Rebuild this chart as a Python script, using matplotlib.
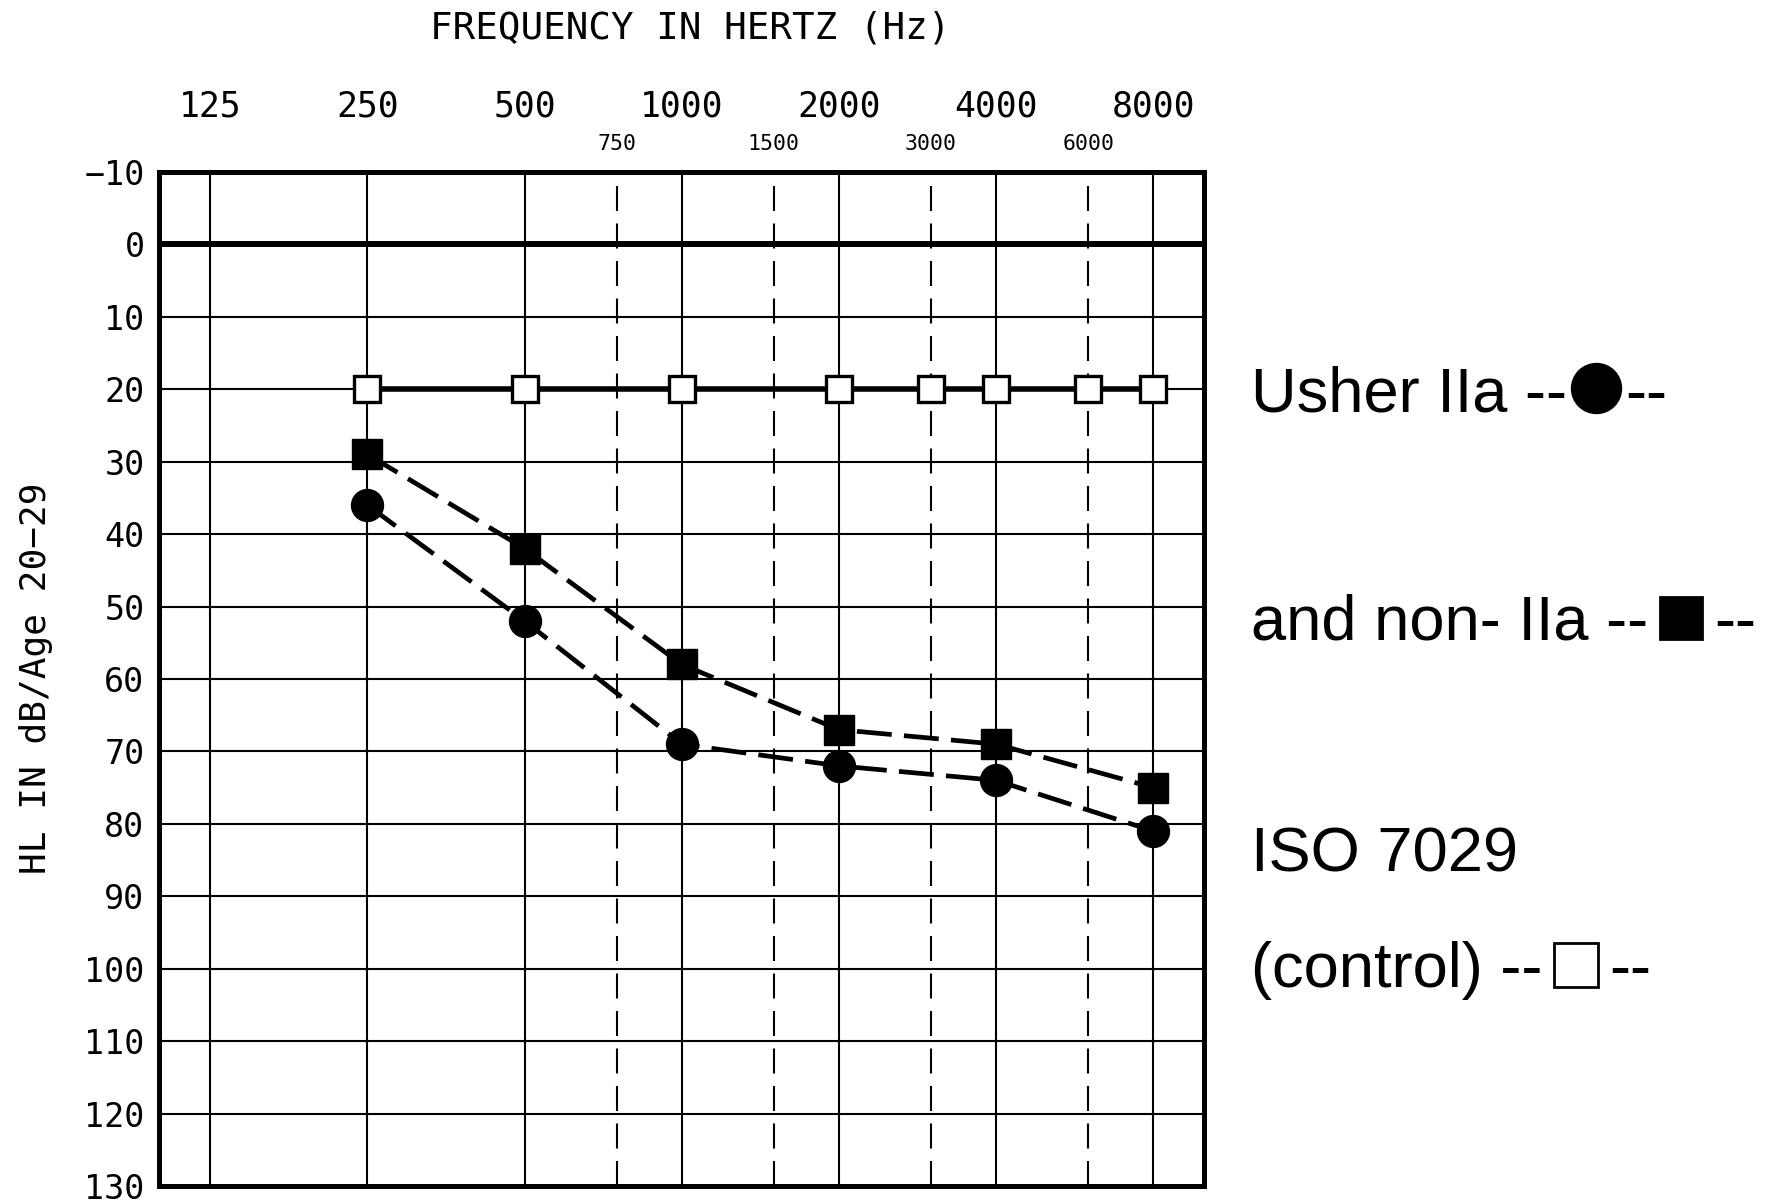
import matplotlib
matplotlib.use("Agg")
import matplotlib.pyplot as plt
from matplotlib.lines import Line2D

# audiogram data (dB HL)
freqs_main = [125, 250, 500, 1000, 2000, 4000, 8000]
freqs_mid = [750, 1500, 3000, 6000]
db_ticks = list(range(-10, 131, 10))

usher_freq = [250, 500, 1000, 2000, 4000, 8000]
usher_db = [36, 52, 69, 72, 74, 81]

non_freq = [250, 500, 1000, 2000, 4000, 8000]
non_db = [29, 42, 58, 67, 69, 75]

ctrl_freq = [250, 500, 1000, 2000, 3000, 4000, 6000, 8000]
ctrl_db = [20, 20, 20, 20, 20, 20, 20, 20]

mono = "DejaVu Sans Mono"
W, H = 1775, 1203

fig = plt.figure(figsize=(W / 100, H / 100), dpi=100)
ax = fig.add_axes([0.0893, 0.0141, 0.589, 0.8430])
ax.set_xscale("log", base=2)
ax.set_xlim(99.5, 10000)
ax.set_ylim(130, -10)

# grid
for f in freqs_main:
    ax.axvline(f, color="black", lw=1.5, zorder=1)
for f in freqs_mid:
    ax.axvline(f, color="black", lw=1.5, ls=(0, (12, 6)), zorder=1)
for d in db_ticks:
    ax.axhline(d, color="black", lw=4.3 if d == 0 else 1.5, zorder=1)

# data
ax.plot(ctrl_freq, ctrl_db, color="black", lw=4, marker="s", ms=19,
        mfc="white", mec="black", mew=2.4, zorder=3)
ax.plot(non_freq, non_db, color="black", lw=3.4, dashes=(7.4, 2.6), marker="s",
        ms=22, mfc="black", mec="black", zorder=4)
ax.plot(usher_freq, usher_db, color="black", lw=3.4, dashes=(7.4, 2.6), marker="o",
        ms=23, mfc="black", mec="black", zorder=4)

# frequency labels on top
ax.xaxis.tick_top()
ax.set_xticks(freqs_main)
ax.set_xticklabels([str(f) for f in freqs_main], fontfamily=mono, fontsize=25)
ax.set_xticks(freqs_mid, minor=True)
ax.set_xticklabels([str(f) for f in freqs_mid], minor=True, fontfamily=mono, fontsize=15.5)
ax.tick_params(axis="x", which="major", length=0, pad=35)
ax.tick_params(axis="x", which="minor", length=0, pad=13)

ax.set_yticks(db_ticks)
ax.set_yticklabels([str(d).replace("-", "\u2212") for d in db_ticks], fontfamily=mono, fontsize=24)
ax.tick_params(axis="y", length=0, pad=10)

for s in ax.spines.values():
    s.set_linewidth(3.6)

fig.text(690 / W, 1 - 28.5 / H, "FREQUENCY IN HERTZ (Hz)", ha="center", va="center",
         fontfamily=mono, fontsize=27)
fig.text(36 / W, 1 - 678 / H, "HL IN dB/Age 20\u221229", ha="center", va="center",
         rotation=90, fontfamily=mono, fontsize=26)

# legend written as text on the right, symbols placed after the text
lfont = dict(family="Liberation Sans", fontsize=45.5)
x0 = 1251 / W
fig.text(x0, 1 - 871.7 / H, "ISO 7029", ha="left", va="baseline", **lfont)

rows = [
    ("Usher IIa --", 411.7, "o", 35, "black", 5, 24),
    ("and non- IIa --", 640.0, "s", 30, "black", 12, 22),
    ("(control) --", 986.7, "s", 31, "white", 12, 22),
]
fig.canvas.draw()
renderer = fig.canvas.get_renderer()
for txt, base, mk, size, face, gap, lift in rows:
    t = fig.text(x0, 1 - base / H, txt, ha="left", va="baseline", **lfont)
    right = t.get_window_extent(renderer).x1
    half = size * 100 / 72 / 2
    cx = right + gap + half
    cy = H - base + lift
    fig.add_artist(Line2D([cx / W], [cy / H], transform=fig.transFigure, marker=mk,
                          ms=size, mfc=face, mec="black", mew=2, ls="none"))
    fig.text((cx + half + gap) / W, 1 - base / H, "--", ha="left", va="baseline", **lfont)

fig.savefig("out.png", dpi=100, facecolor="white")
